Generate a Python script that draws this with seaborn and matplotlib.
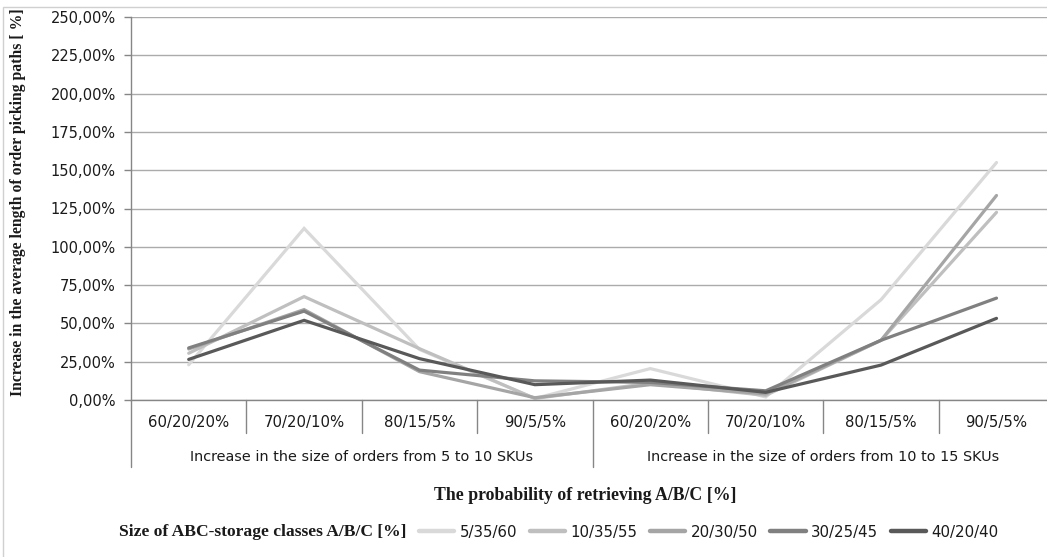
import matplotlib
matplotlib.use("Agg")
import matplotlib.pyplot as plt
import matplotlib.transforms as mtransforms
from matplotlib.lines import Line2D
from matplotlib.patches import Rectangle
import numpy as np
import pandas as pd
import seaborn as sns

# Probability of retrieving A/B/C, repeated for both order-size groups
categories = ["60/20/20%", "70/20/10%", "80/15/5%", "90/5/5%",
              "60/20/20%", "70/20/10%", "80/15/5%", "90/5/5%"]
groups = ["Increase in the size of orders from 5 to 10 SKUs",
          "Increase in the size of orders from 10 to 15 SKUs"]

# Size of ABC-storage classes A/B/C [%]
series_names = ["5/35/60", "10/35/55", "20/30/50", "30/25/45", "40/20/40"]

# Increase in the average length of order picking paths [%]
s_5_35_60 = [23.0, 112.0, 33.0, 1.0, 20.5, 2.0, 65.5, 155.0]
s_10_35_55 = [30.5, 67.5, 33.5, 1.0, 11.0, 3.0, 39.0, 122.5]
s_20_30_50 = [33.3, 59.0, 18.5, 1.5, 10.0, 4.0, 39.0, 133.5]
s_30_25_45 = [34.0, 58.0, 19.5, 12.5, 11.5, 6.0, 39.0, 66.5]
s_40_20_40 = [26.5, 52.0, 27.0, 10.0, 13.0, 5.0, 22.8, 53.3]

y_ticks = [0, 25, 50, 75, 100, 125, 150, 175, 200, 225, 250]

series_values = [s_5_35_60, s_10_35_55, s_20_30_50, s_30_25_45, s_40_20_40]
palette = ["#d9d9d9", "#bfbfbf", "#a5a5a5", "#808080", "#595959"]

rows = []
for name, vals in zip(series_names, series_values):
    for i, v in enumerate(vals):
        rows.append({"pos": i, "value": v, "series": name})
df = pd.DataFrame(rows)

sns.set_theme(style="white")
plt.rcParams["font.family"] = ["DejaVu Sans"]

W, H = 1047, 557
fig = plt.figure(figsize=(W / 100, H / 100), dpi=100)
fig.patch.set_facecolor("white")

# outer chart frame
fig.patches.append(Rectangle((3 / W, -0.1), 1.2, 1 - 7 / H + 0.1, transform=fig.transFigure,
                             fill=False, edgecolor="#d0d0d0", linewidth=1.0))

band_px = 115.4
ax_left, ax_right = 131 / W, 1.0
ax_bottom, ax_top = 1 - 400 / H, 1 - 17 / H
ax = fig.add_axes([ax_left, ax_bottom, ax_right - ax_left, ax_top - ax_bottom])

sns.lineplot(data=df, x="pos", y="value", hue="series", hue_order=series_names,
             palette=palette, linewidth=2.3, ax=ax, legend=False, sort=False)
for ln in ax.lines:
    ln.set_solid_capstyle("round")
    ln.set_solid_joinstyle("miter")

n = len(categories)
x_span = (1047 - 131) / band_px
ax.set_xlim(-0.5, -0.5 + x_span)
ax.set_ylim(y_ticks[0], y_ticks[-1])
ax.set_yticks(y_ticks)
ax.set_yticklabels([f"{t:.2f}%".replace(".", ",") for t in y_ticks])
ax.tick_params(axis="y", which="both", left=True, length=5, width=1, color="#868686",
               labelsize=10.5, pad=6, labelcolor="#1a1a1a")
ax.set_xticks([])
ax.set_xlabel("")
ax.set_ylabel("")
ax.grid(axis="y", color="#ababab", linewidth=1.0)
ax.grid(axis="x", visible=False)
ax.set_axisbelow(True)
for side in ["top", "right"]:
    ax.spines[side].set_visible(False)
for side in ["left", "bottom"]:
    ax.spines[side].set_color("#868686")
    ax.spines[side].set_linewidth(1.0)

# hierarchical category axis below the plot
trans = mtransforms.blended_transform_factory(ax.transData, ax.transAxes)
px = 1.0 / (400 - 17)  # one pixel in axes-fraction units
cat_label_y = -23 * px
group_label_y = -57 * px
for i, lab in enumerate(categories):
    ax.text(i, cat_label_y, lab, transform=trans, ha="center", va="center",
            fontsize=10.7, color="#1a1a1a")
for i in range(n + 1):
    edge = i - 0.5
    depth = 67 if i % 4 == 0 else 33
    ax.plot([edge, edge], [0, -depth * px], transform=trans, color="#868686",
            linewidth=1.0, clip_on=False)
for g, lab in enumerate(groups):
    ax.text(g * 4 + 1.5, group_label_y, lab, transform=trans, ha="center", va="center",
            fontsize=10.4, color="#1a1a1a")

serif_bold = dict(family=["Liberation Serif"], weight="bold", color="#1a1a1a")
fig.text(18 / W, 1 - 202 / H, "Increase in the average length of order picking paths [ %]",
         rotation=90, ha="center", va="center", fontsize=11.3, **serif_bold)
fig.text(585 / W, 1 - 495 / H, "The probability of retrieving A/B/C [%]",
         ha="center", va="center", fontsize=12.8, **serif_bold)
fig.text(406 / W, 1 - 532 / H, "Size of ABC-storage classes A/B/C [%]",
         ha="right", va="center", fontsize=12.6, **serif_bold)

handles = [Line2D([], [], color=c, linewidth=3.2) for c in palette]
leg = fig.legend(handles, series_names, loc="center left",
                 bbox_to_anchor=(419 / W, 1 - 532 / H), ncol=5, frameon=False,
                 fontsize=10.8, handlelength=2.35, handletextpad=0.35,
                 columnspacing=0.85, borderaxespad=0, borderpad=0)
for t in leg.get_texts():
    t.set_color("#1a1a1a")

fig.savefig("out.png", dpi=100, facecolor="white")
